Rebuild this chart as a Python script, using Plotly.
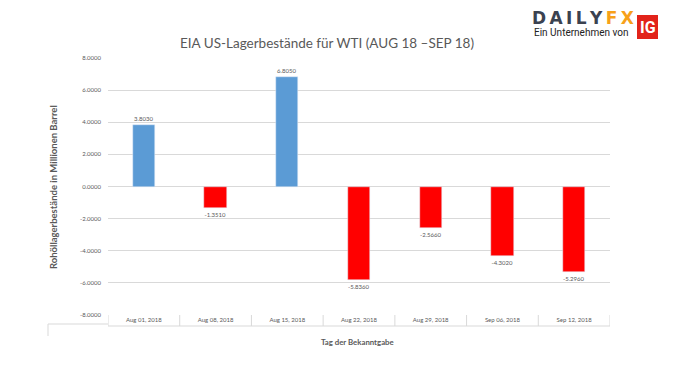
import plotly.graph_objects as go

categories = ["Aug 01, 2018", "Aug 08, 2018", "Aug 15, 2018", "Aug 22, 2018",
              "Aug 29, 2018", "Sep 06, 2018", "Sep 12, 2018"]
values = [3.803, -1.351, 6.805, -5.836, -2.566, -4.302, -5.296]
y_ticks = [8, 6, 4, 2, 0, -2, -4, -6, -8]

colors = ["#5b9bd5" if v >= 0 else "#ff0000" for v in values]
gray = "#595959"
font = "Lato"

fig = go.Figure()
fig.add_trace(go.Bar(
    x=list(range(len(categories))), y=values, marker_color=colors, width=0.31,
    text=[f"{v:.4f}" for v in values], textposition="outside",
    textfont=dict(size=6, color=gray, family=font), cliponaxis=False,
))

L, R, T, B = 108, 610, 58, 315
fig.update_layout(
    width=679, height=376,
    margin=dict(l=L, r=679 - R, t=T, b=376 - B),
    paper_bgcolor="white", plot_bgcolor="white",
    showlegend=False, bargap=0,
    font=dict(family=font, color=gray),
    xaxis=dict(range=[-0.5, 6.5], tickmode="array", tickvals=list(range(7)),
               ticktext=categories, tickfont=dict(size=6, color=gray),
               showgrid=False, zeroline=False, showline=False, ticks="",
               ticklabelstandoff=0),
    yaxis=dict(range=[-8, 8], tickmode="array", tickvals=y_ticks,
               ticktext=[f"{v:.4f}" for v in y_ticks],
               tickfont=dict(size=6, color=gray), showgrid=True,
               gridcolor="#d9d9d9", gridwidth=1, zeroline=False,
               showline=False, ticks="", ticklabelstandoff=6),
)

def px(xp, yp):
    return (xp - L) / (R - L), (B - yp) / (B - T)

# category axis box
box_h = -11 / (B - T)
bx = -60 / (R - L)
shapes = [
    dict(type="line", xref="paper", yref="paper", x0=0, x1=1, y0=box_h, y1=box_h,
         line=dict(color="#d9d9d9", width=1)),
    dict(type="line", xref="paper", yref="paper", x0=bx, x1=0, y0=-9 / (B - T), y1=-9 / (B - T),
         line=dict(color="#d9d9d9", width=1)),
    dict(type="line", xref="paper", yref="paper", x0=bx, x1=bx,
         y0=-9 / (B - T), y1=-21 / (B - T), line=dict(color="#d9d9d9", width=1)),
]
for i in range(len(categories) + 1):
    shapes.append(dict(type="line", xref="x", yref="paper", x0=i - 0.5, x1=i - 0.5,
                       y0=0, y1=box_h, line=dict(color="#d9d9d9", width=1)))
# IG logo box
x0, y0 = px(637, 39)
x1, y1 = px(658, 15)
shapes.append(dict(type="rect", xref="paper", yref="paper", x0=x0, x1=x1, y0=y0, y1=y1,
                   fillcolor="#e2231a", line=dict(width=0)))
fig.update_layout(shapes=shapes)

ann = []
def add(text, xp, yp, size, color, family=font, angle=0):
    x, y = px(xp, yp)
    ann.append(dict(text=text, x=x, y=y, xref="paper", yref="paper", showarrow=False,
                    xanchor="center", yanchor="middle", textangle=angle,
                    font=dict(size=size, color=color, family=family)))

ts = "\u2009"
add("EIA US-Lagerbestände für WTI (AUG 18 –SEP 18)", 327, 43, 13.5, gray)
add("<b>Rohöllagerbestände in Millionen Barrel</b>", 53, 187, 9.5, gray, angle=-90)
add("<b>Tag der Bekanntgabe</b>", 357, 342, 7.8, gray)
add("<span style='color:#3b4250'><b>" + ts.join("DAILY") + ts + "</b></span>"
    "<span style='color:#f7a11a'><b>" + ts.join("FX") + "</b></span>",
    583, 18, 17, "#3b4250", family="DejaVu Sans")
add("Ein Unternehmen von", 581, 33, 10, "#222222", family="Roboto")
add("<b>IG</b>", 647.5, 28, 16, "white", family="Roboto")
fig.update_layout(annotations=ann)

fig.write_html("out.html", config={"displayModeBar": False},
               post_script="document.body.style.margin='0';")
